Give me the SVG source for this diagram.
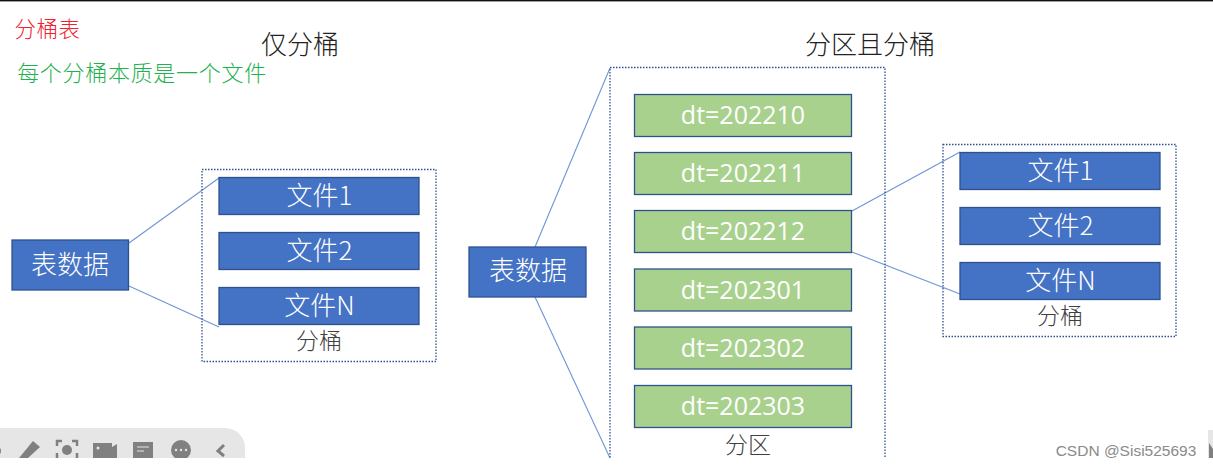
<svg xmlns="http://www.w3.org/2000/svg" width="1213" height="466" viewBox="0 0 1213 466">
<style>
text{font-family:"Liberation Sans","Noto Sans CJK SC",sans-serif;text-anchor:middle}
.cjk{font-family:"Noto Sans CJK SC","Liberation Sans",sans-serif;font-weight:300}
.blue{fill:#4472c4;stroke:#2f528f;stroke-width:1.3}
.green{fill:#a9d18e;stroke:#2f528f;stroke-width:1.3}
.w{fill:#fff;font-size:26px}
.g{fill:#fff;font-size:25px;font-family:"Open Sans","Liberation Sans",sans-serif;font-weight:400}
.dot{fill:none;stroke:#2f528f;stroke-width:1.3;stroke-dasharray:1.5 1.5}
.k{fill:#404040;font-size:23px}
.t{fill:#222;font-size:26px}
.c{fill:none;stroke:#6f94d6;stroke-width:1.1}
.i{fill:#808080}
</style>
<defs><clipPath id="cut"><rect x="0" y="0" width="1213" height="458"/></clipPath></defs>
<rect width="1213" height="466" fill="#fff"/>
<rect x="0" y="0" width="1213" height="1.4" fill="#111"/>
<g id="captions">
<text x="47.500" y="37" class="cjk" font-size="21.500" letter-spacing="0.5" fill="#f0222e">分桶表</text>
<text x="142" y="81" class="cjk" font-size="22" letter-spacing="0.7" fill="#1fb24f">每个分桶本质是一个文件</text>
<text x="300" y="54" class="cjk t">仅分桶</text>
<text x="870" y="54" class="cjk t">分区且分桶</text>
</g>
<g id="connectors" clip-path="url(#cut)">
<line class="c" x1="129" y1="243" x2="219" y2="178"/>
<line class="c" x1="129" y1="286" x2="219" y2="327"/>
<line class="c" x1="535" y1="247" x2="610" y2="68"/>
<line class="c" x1="535" y1="297" x2="610" y2="458"/>
<line class="c" x1="852" y1="211" x2="960" y2="152"/>
<line class="c" x1="852" y1="252" x2="960" y2="294"/>
</g>
<g id="bucket-box"><rect class="dot" x="202" y="169.500" width="234" height="192"/><text x="319" y="349" class="cjk k">分桶</text></g>
<g id="partition-box" clip-path="url(#cut)"><rect class="dot" x="610" y="67.500" width="275" height="400"/><text x="748" y="453" class="cjk k">分区</text></g>
<g id="bucket2-box"><rect class="dot" x="943" y="144.500" width="233" height="192"/><text x="1060" y="324" class="cjk k">分桶</text></g>
<g id="table-left"><rect class="blue" x="12" y="240" width="116.500" height="50"/><text x="70" y="274" class="cjk w">表数据</text></g>
<g id="table-right"><rect class="blue" x="469" y="247" width="117" height="50"/><text x="528" y="280" class="cjk w">表数据</text></g>
<g id="file-1"><rect class="blue" x="219" y="177.500" width="200" height="37"/><text x="319.500" y="204.500" class="cjk w">文件1</text></g>
<g id="file-2"><rect class="blue" x="219" y="232.500" width="200" height="37"/><text x="319.500" y="259.500" class="cjk w">文件2</text></g>
<g id="file-n"><rect class="blue" x="219" y="287.500" width="200" height="37"/><text x="319.500" y="314.500" class="cjk w">文件N</text></g>
<g id="p-202210"><rect class="green" x="634.500" y="94.500" width="217" height="42"/><text x="743" y="124" class="g">dt=202210</text></g>
<g id="p-202211"><rect class="green" x="634.500" y="152.500" width="217" height="42"/><text x="743" y="182" class="g">dt=202211</text></g>
<g id="p-202212"><rect class="green" x="634.500" y="210.500" width="217" height="42"/><text x="743" y="240" class="g">dt=202212</text></g>
<g id="p-202301"><rect class="green" x="634.500" y="269" width="217" height="42"/><text x="743" y="298.500" class="g">dt=202301</text></g>
<g id="p-202302"><rect class="green" x="634.500" y="327" width="217" height="42"/><text x="743" y="356.500" class="g">dt=202302</text></g>
<g id="p-202303"><rect class="green" x="634.500" y="385.500" width="217" height="42"/><text x="743" y="415" class="g">dt=202303</text></g>
<g id="file2-1"><rect class="blue" x="960" y="152.500" width="200" height="37"/><text x="1060.500" y="179.500" class="cjk w">文件1</text></g>
<g id="file2-2"><rect class="blue" x="960" y="207.500" width="200" height="37"/><text x="1060.500" y="234.500" class="cjk w">文件2</text></g>
<g id="file2-n"><rect class="blue" x="960" y="262.500" width="200" height="37"/><text x="1060.500" y="289.500" class="cjk w">文件N</text></g>
<g id="toolbar" clip-path="url(#cut)">
<path d="M0 428H225a20 20 0 0 1 20 20V458H0Z" fill="#e6e6e6"/>
<circle class="i" cx="-3" cy="451" r="4"/>
<path class="i" d="M19 458L33 441L40 447L28 458Z"/>
<path d="M57 446V441H62M72 441H77V446M57 453V458M77 453V458" fill="none" stroke="#808080" stroke-width="2.500"/>
<circle class="i" cx="67" cy="450" r="5"/>
<path class="i" d="M93 443H112V447L117 444V458H93Z"/>
<circle cx="98" cy="448" r="1.500" fill="#e6e6e6"/>
<rect class="i" x="133" y="442" width="20" height="16"/>
<path d="M137 447H149M137 451H144" stroke="#e6e6e6" stroke-width="1.200"/>
<circle class="i" cx="181" cy="450" r="10"/>
<circle cx="176" cy="450" r="1.200" fill="#e6e6e6"/><circle cx="181" cy="450" r="1.200" fill="#e6e6e6"/><circle cx="186" cy="450" r="1.200" fill="#e6e6e6"/>
<path d="M224 445L218 451L224 456" fill="none" stroke="#808080" stroke-width="3"/>
<rect x="1208" y="430" width="5" height="28" fill="#e6e6e6"/>
<path class="i" d="M1209 443L1213 449V458H1209Z"/>
</g>
<g id="watermark"><text x="1126" y="456" font-size="15.500" fill="#8a8a8a">CSDN @Sisi525693</text></g>
</svg>
